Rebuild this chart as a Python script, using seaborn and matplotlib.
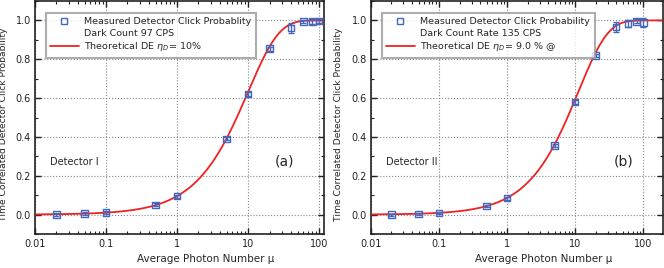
import numpy as np
import pandas as pd
import matplotlib
matplotlib.use("Agg")
import matplotlib.pyplot as plt
from matplotlib.lines import Line2D
from matplotlib.ticker import MultipleLocator, FixedLocator, FixedFormatter, LogLocator, NullFormatter
import seaborn as sns

mu = [0.02, 0.05, 0.1, 0.5, 1, 5, 10, 20, 40, 60, 80, 100]
p_det1 = [0.0, 0.005, 0.012, 0.05, 0.095, 0.39, 0.622, 0.855, 0.96, 0.995, 0.995, 0.997]
err_det1 = [0.008, 0.008, 0.008, 0.008, 0.008, 0.008, 0.01, 0.01, 0.025, 0.008, 0.012, 0.01]
p_det2 = [0.0, 0.003, 0.008, 0.045, 0.085, 0.355, 0.58, 0.82, 0.965, 0.985, 0.995, 0.99]
err_det2 = [0.005, 0.005, 0.005, 0.005, 0.008, 0.008, 0.008, 0.008, 0.025, 0.018, 0.01, 0.022]
eta_det1 = 0.10
eta_det2 = 0.09

x_ticks = [0.01, 0.1, 1, 10, 100]
x_ticklabels = ["0.01", "0.1", "1", "10", "100"]

sns.set_style("ticks")
plt.rcParams['font.family'] = ['DejaVu Sans']

blue = "#4466bb"
red = "#ee2222"

fig = plt.figure(figsize=(6.64, 2.68), dpi=100)
ax1 = fig.add_axes([35/664, 34/268, 289/664, 233/268])
ax2 = fig.add_axes([371/664, 34/268, 292/664, 233/268])

panels = [
    (ax1, p_det1, err_det1, eta_det1, (0.01, 117),
     ["Measured Detector Click Probablity", "Dark Count 97 CPS", r"Theoretical DE $\eta_D$= 10%"],
     "Detector I", "(a)"),
    (ax2, p_det2, err_det2, eta_det2, (0.01, 195),
     ["Measured Detector Click Probability", "Dark Count Rate 135 CPS", r"Theoretical DE $\eta_D$= 9.0 % @"],
     "Detector II", "(b)"),
]

for ax, p, err, eta, xlim, leg_txt, det_txt, tag in panels:
    df = pd.DataFrame({"mu": mu, "p": p})
    mu_fine = np.logspace(-2, np.log10(xlim[1]), 400)
    curve = pd.DataFrame({"mu": mu_fine, "p": 1 - np.exp(-eta * mu_fine)})
    sns.lineplot(data=curve, x="mu", y="p", color=red, lw=1.3, ax=ax, zorder=3)
    ax.errorbar(mu, p, yerr=err, fmt="none", ecolor=blue, elinewidth=1.0, capsize=2.5, zorder=4)
    sns.scatterplot(data=df, x="mu", y="p", marker="s", s=22, facecolor="none",
                    edgecolor=blue, linewidth=1.0, ax=ax, zorder=5)
    ax.set_xscale("log")
    ax.set_xlim(*xlim)
    ax.set_ylim(-0.1, 1.1)
    ax.xaxis.set_major_locator(FixedLocator(x_ticks))
    ax.xaxis.set_major_formatter(FixedFormatter(x_ticklabels))
    ax.xaxis.set_minor_locator(LogLocator(base=10, subs=np.arange(2, 10)))
    ax.xaxis.set_minor_formatter(NullFormatter())
    ax.yaxis.set_minor_locator(MultipleLocator(0.1))
    ax.set_yticks([0.0, 0.2, 0.4, 0.6, 0.8, 1.0])
    ax.set_yticklabels(["0.0", "0.2", "0.4", "0.6", "0.8", "1.0"])
    ax.tick_params(which="both", direction="in", top=True, right=True, labelsize=7, colors="#222222")
    ax.tick_params(which="major", length=4, width=1)
    ax.tick_params(which="minor", length=2.5, width=0.8)
    ax.tick_params(axis="x", pad=3.5)
    ax.tick_params(axis="y", pad=3)
    ax.grid(True, which="major", ls=":", color="#888888", lw=0.8)
    for s in ax.spines.values():
        s.set_linewidth(1.2)
        s.set_color("#222222")
    ax.set_xlabel("Average Photon Number μ", fontsize=7.5, labelpad=3)
    ax.xaxis.set_label_coords(0.59, -0.085)
    ax.set_ylabel("Time Correlated Detector Click Probability", fontsize=6.6)
    ax.yaxis.set_label_coords(-0.095, 0.47)
    ax.text(0.052, 0.31, det_txt, transform=ax.transAxes, fontsize=7, va="center")
    ax.text(0.83, 0.31, tag, transform=ax.transAxes, fontsize=10, va="center")

    handles = [
        Line2D([], [], marker="s", ls="none", mfc="none", mec=blue, ms=5),
        Line2D([], [], ls="none"),
        Line2D([], [], color=red, lw=1.3),
    ]
    leg = ax.legend(handles, leg_txt, loc="upper left", bbox_to_anchor=(0.02, 0.97),
                    fontsize=6.8, frameon=True, fancybox=False, handlelength=3,
                    borderpad=0.5, labelspacing=0.25, handletextpad=0.6)
    leg.get_frame().set_edgecolor("#999999")
    leg.get_frame().set_linewidth(1.5)

fig.savefig("out.png", dpi=100)
